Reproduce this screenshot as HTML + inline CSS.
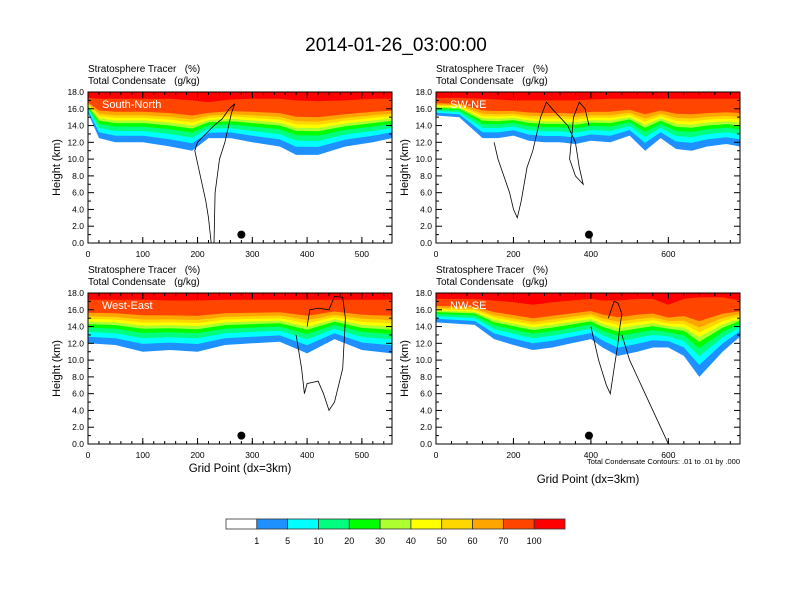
<!DOCTYPE html>
<html><head><meta charset="utf-8">
<style>
html,body{margin:0;padding:0;background:#fff;}
svg{display:block;font-family:"Liberation Sans",Arial,sans-serif;}
text{white-space:pre;}
</style></head>
<body>
<svg id="fig" width="792" height="612" viewBox="0 0 792 612">
<text x="396" y="51" font-size="19" text-anchor="middle">2014-01-26_03:00:00</text>
<g id="panels"></g>
<g id="colorbar"></g>
</svg>
<script>
// ---- data ----
const levelLabels = ["1","5","10","20","30","40","50","60","70","100"];
const levelColors = ["#ffffff","#1e90ff","#00ffff","#00ff7f","#00ff00","#adff2f","#ffff00","#ffd700","#ffa500","#ff4500","#ff0000"];
const levelFrac = [0,0.15,0.26,0.36,0.44,0.5,0.56,0.62,0.7,1];

const p1X = [0,20,50,100,150,190,220,260,300,350,380,420,470,520,555];
const p1Bottom = [15.5,12.5,12,12,11.5,11,12.5,12.5,12,11.5,10.5,10.5,11.5,12,12.5];
const p1Top = [17.3,17.2,17.2,17.2,17.2,17.0,16.8,17.1,17.2,17.2,17.0,16.9,17.0,17.2,17.2];
const p1Contour = [[230,0],[232,6],[240,10],[250,12],[262,15.5],[268,16.6],[258,16],[245,14.8],[230,14],[215,13],[200,12],[195,11],[205,8],[215,5],[220,3],[225,0]];
const p1Dot = [280,1.0];

const p2X = [0,60,120,160,200,240,280,320,360,400,450,500,540,580,620,660,700,750,785];
const p2Bottom = [15.2,15.0,12.5,12.5,12.8,12.2,12.0,12.0,11.8,12.2,12.0,12.8,11.0,12.5,11.2,11.0,11.5,11.8,11.5];
const p2Top = [17.3,17.3,17.2,17.1,17.0,17.0,17.0,17.0,17.0,17.1,17.2,17.2,17.2,17.2,17.2,17.2,17.2,17.2,17.2];
const p2Contour = [[150,12],[160,10],[175,8],[190,6],[200,4],[210,3],[220,5],[235,9],[250,11],[270,15],[285,16.8],[300,16],[320,15],[340,14],[360,12],[370,9],[380,7],[360,8],[345,10],[355,15],[370,16.8],[385,16],[395,14]];
const p2Dot = [395,1.0];

const p3X = [0,50,100,150,200,250,300,350,400,450,500,555];
const p3Bottom = [12,11.8,11,11.2,11,11.8,12,12.2,10.8,12.5,11.2,10.8];
const p3Top = [17.2,17.2,17.2,17.1,17.1,17.2,17.2,17.2,17.2,17.2,17.2,17.2];
const p3Contour = [[380,13],[390,9],[395,6],[400,7.2],[420,7.5],[430,6],[440,4],[450,5],[465,9],[470,15],[465,17.5],[450,17.6],[440,16],[420,16.2],[405,16],[400,14]];
const p3Dot = [280,1.0];

const p4X = [0,100,150,200,250,300,350,400,430,470,520,560,600,640,680,700,740,785];
const p4Bottom = [14.5,14.2,12.5,11.8,11.2,11.5,12,12.5,11.5,10.5,11.0,11.5,11.5,10.5,8,9,11,12.8];
const p4Top = [17.3,17.3,17.1,16.9,16.6,16.9,17.1,17.3,17.1,17.1,17.3,17.3,16.6,17.3,17.5,17.5,17.5,17.1];
const p4Contour = [[400,14],[420,10],[440,7],[450,6],[460,9],[470,12],[475,14],[480,15.5],[470,16.8],[460,17],[445,15]];
const p4Contour2 = [[480,13],[500,10],[540,6],[580,2],[600,0]];
const p4Dot = [395,1.0];

// ---- layout ----
const panels = [
 {name:"South-North", x0:88, x1:392, y0:92, y1:243, xmax:555, ticks:[0,100,200,300,400,500], minor:20, X:p1X, B:p1Bottom, T:p1Top, C:[p1Contour], dot:p1Dot, xtitle:false},
 {name:"SW-NE", x0:436, x1:740, y0:92, y1:243, xmax:785, ticks:[0,200,400,600], minor:40, X:p2X, B:p2Bottom, T:p2Top, C:[p2Contour], dot:p2Dot, xtitle:false},
 {name:"West-East", x0:88, x1:392, y0:293, y1:444, xmax:555, ticks:[0,100,200,300,400,500], minor:20, X:p3X, B:p3Bottom, T:p3Top, C:[p3Contour], dot:p3Dot, xtitle:true},
 {name:"NW-SE", x0:436, x1:740, y0:293, y1:444, xmax:785, ticks:[0,200,400,600], minor:40, X:p4X, B:p4Bottom, T:p4Top, C:[p4Contour,p4Contour2], dot:p4Dot, xtitle:true, note:true}
];
const NS="http://www.w3.org/2000/svg";
function mk(tag,attrs,parent){const e=document.createElementNS(NS,tag);for(const k in attrs)e.setAttribute(k,attrs[k]);parent.appendChild(e);return e;}
const root=document.getElementById("panels");
const slugs=["south-north","sw-ne","west-east","nw-se"];
panels.forEach((p,pi)=>{
  const g=mk("g",{},root);
  
  
  const sx=v=>p.x0+(v/p.xmax)*(p.x1-p.x0);
  const sy=v=>p.y1-(v/18)*(p.y1-p.y0);
  const clipId="clip"+pi;
  const cp=mk("clipPath",{id:clipId},g);
  mk("rect",{x:p.x0,y:p.y0,width:p.x1-p.x0,height:p.y1-p.y0},cp);
  const fg=mk("g",{"clip-path":"url(#"+clipId+")"},g);
  for(let k=0;k<levelFrac.length;k++){
    let pts=[];
    p.X.forEach((xv,i)=>{const h=p.B[i]+(p.T[i]-p.B[i])*levelFrac[k];pts.push(sx(xv).toFixed(1)+","+sy(h).toFixed(1));});
    pts.push(sx(p.xmax)+","+sy(18.5));pts.push(sx(0)+","+sy(18.5));
    const poly=mk("polygon",{points:pts.join(" "),fill:levelColors[k+1]},fg);
    
    
  }
  p.C.forEach(c=>{
    const pl=mk("polyline",{points:c.map(q=>sx(q[0]).toFixed(1)+","+sy(q[1]).toFixed(1)).join(" "),fill:"none",stroke:"#000","stroke-width":0.8},fg);
    
    
  });
  const dot=mk("circle",{cx:sx(p.dot[0]),cy:sy(p.dot[1]),r:4,fill:"#000"},g);
  
  
  const lab=mk("text",{x:p.x0+14,y:p.y0+16,fill:"#fff","font-size":11},g);
  lab.textContent=p.name;
  
  
  const fr=mk("rect",{x:p.x0,y:p.y0,width:p.x1-p.x0,height:p.y1-p.y0,fill:"none",stroke:"#000","stroke-width":1},g);
  
  
  for(let h=0;h<=18;h+=2){
    const y=sy(h);
    mk("line",{x1:p.x0,y1:y,x2:p.x0+6,y2:y,stroke:"#000"},g);
    mk("line",{x1:p.x1,y1:y,x2:p.x1-6,y2:y,stroke:"#000"},g);
    const t=mk("text",{x:p.x0-4,y:y+3,"font-size":8.5,"text-anchor":"end"},g);
    t.textContent=h.toFixed(1);
    
    
  }
  for(let h=1;h<18;h+=2){const y=sy(h);mk("line",{x1:p.x0,y1:y,x2:p.x0+3,y2:y,stroke:"#000"},g);mk("line",{x1:p.x1,y1:y,x2:p.x1-3,y2:y,stroke:"#000"},g);}
  for(let v=0;v<=p.xmax;v+=p.minor){const x=sx(v);mk("line",{x1:x,y1:p.y1,x2:x,y2:p.y1-3,stroke:"#000"},g);mk("line",{x1:x,y1:p.y0,x2:x,y2:p.y0+3,stroke:"#000"},g);}
  p.ticks.forEach(v=>{
    const x=sx(v);
    mk("line",{x1:x,y1:p.y1,x2:x,y2:p.y1-6,stroke:"#000"},g);
    mk("line",{x1:x,y1:p.y0,x2:x,y2:p.y0+6,stroke:"#000"},g);
    const t=mk("text",{x:x,y:p.y1+14,"font-size":8.5,"text-anchor":"middle"},g);
    t.textContent=v;
    
    
  });
  const yt=mk("text",{x:0,y:0,"font-size":11,"text-anchor":"middle",transform:"translate("+(p.x0-28)+","+((p.y0+p.y1)/2)+") rotate(-90)"},g);
  yt.textContent="Height (km)";
  
  
  const h1=mk("text",{x:p.x0,y:p.y0-20,"font-size":10},g);
  h1.textContent="Stratosphere Tracer   (%)";
  
  
  const h2=mk("text",{x:p.x0,y:p.y0-8,"font-size":10},g);
  h2.textContent="Total Condensate   (g/kg)";
  
  
  if(p.xtitle){
    const xt=mk("text",{x:(p.x0+p.x1)/2,y:p.note?483:472,"font-size":11.5,"text-anchor":"middle"},g);
    xt.textContent="Grid Point (dx=3km)";
    
    
  }
  if(p.note){
    const n=mk("text",{x:p.x1,y:p.y1+20,"font-size":7.5,"text-anchor":"end"},g);
    n.textContent="Total Condensate Contours: .01 to .01 by .000";
    
    
  }
});
const cb=document.getElementById("colorbar");
const cbx0=226,cbx1=565,cby=519,cbh=10;
const bw=(cbx1-cbx0)/levelColors.length;
levelColors.forEach((c,i)=>{
  const r=mk("rect",{x:cbx0+i*bw,y:cby,width:bw,height:cbh,fill:c,stroke:"#333","stroke-width":0.8},cb);
  
  
});
levelLabels.forEach((l,i)=>{
  const t=mk("text",{x:cbx0+(i+1)*bw,y:cby+cbh+15,"font-size":9,"text-anchor":"middle"},cb);
  t.textContent=l;
  
  
});
</script>
</body></html>
